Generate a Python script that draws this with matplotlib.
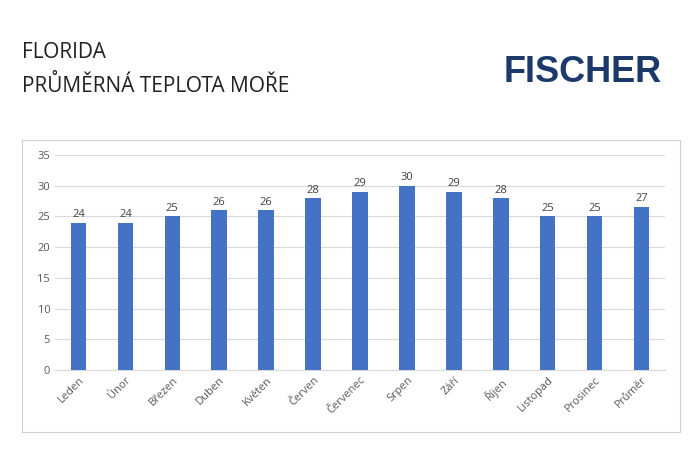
import matplotlib
matplotlib.use("Agg")
import matplotlib.pyplot as plt
from matplotlib.patches import Rectangle

months = ["Leden","Únor","Březen","Duben","Květen","Červen","Červenec","Srpen","Září","Říjen","Listopad","Prosinec","Průměr"]
values = [24,24,25,26,26,28,29,30,29,28,25,25,26.6]
labels = ["24","24","25","26","26","28","29","30","29","28","25","25","27"]
yticks = [0,5,10,15,20,25,30,35]

plt.rcParams["font.family"] = "Open Sans"
fig = plt.figure(figsize=(7,4.5), dpi=100)
W, H = 700, 450
fig.text(22/W, 1-52/H, "FLORIDA", fontsize=15, color="#222222", va="center")
fig.text(22/W, 1-86/H, "PRŮMĚRNÁ TEPLOTA MOŘE", fontsize=15, color="#222222", va="center")
fig.text(662/W, 1-73/H, "FISCHER", fontsize=26, fontweight="bold", color="#1b3a6b", ha="right", va="center", family="Liberation Sans")
fig.patches.append(Rectangle((22/W, 1-432/H), 658/W, 292/H, transform=fig.transFigure, fill=False, edgecolor="#d0d0d0", lw=0.8))

ax = fig.add_axes([55/W, 1-370/H, 610/W, 215/H])
x = range(len(months))
ax.bar(x, values, width=0.33, color="#4472C4", zorder=3)
for i, (v, l) in enumerate(zip(values, labels)):
    ax.text(i, v+0.4, l, ha="center", va="bottom", fontsize=8, color="#404040")
ax.set_ylim(0, 35)
ax.set_xlim(-0.5, len(months)-0.5)
ax.set_yticks(yticks)
ax.set_xticks(list(x))
ax.set_xticklabels(months, rotation=45, ha="right", rotation_mode="anchor", fontsize=8, color="#595959")
ax.tick_params(axis="y", labelsize=8, colors="#595959", length=0)
ax.tick_params(axis="x", length=0)
ax.grid(axis="y", color="#d9d9d9", lw=0.8, zorder=0)
for s in ["top","right","left"]:
    ax.spines[s].set_visible(False)
ax.spines["bottom"].set_color("#d9d9d9")
fig.savefig("out.png", dpi=100)
